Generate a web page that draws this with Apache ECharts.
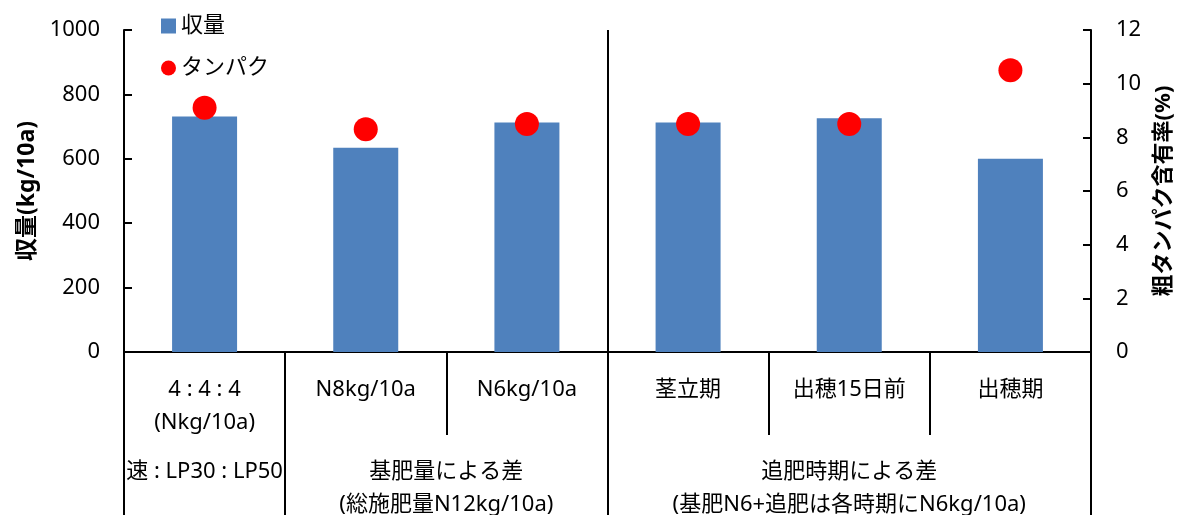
<!DOCTYPE html>
<html>
<head>
<meta charset="utf-8">
<script src="https://cdn.jsdelivr.net/npm/echarts@6/dist/echarts.min.js"></script>
<style>
html,body{margin:0;padding:0;background:#fff;}
#chart{width:1183px;height:515px;}
</style>
</head>
<body>
<div id="chart"></div>
<script>
const categories = ['4 : 4 : 4\n(Nkg/10a)', 'N8kg/10a', 'N6kg/10a', '茎立期', '出穂15日前', '出穂期'];
const yieldValues = [731, 634, 713, 713, 726, 600];
const proteinValues = [9.1, 8.3, 8.5, 8.5, 8.5, 10.5];
const groupLabels = ['速 : LP30 : LP50', '基肥量による差\n(総施肥量N12kg/10a)', '追肥時期による差\n(基肥N6+追肥は各時期にN6kg/10a)'];
const groupFirst = [0, 1, 3];
const groupLast = [0, 2, 5];
const leftTicks = [0, 200, 400, 600, 800, 1000];
const rightTicks = [0, 2, 4, 6, 8, 10, 12];

const FONT = '"Noto Sans", "Noto Sans CJK JP", sans-serif';
const chart = echarts.init(document.getElementById('chart'));
const lineStyle = { color: '#000', width: 2 };

chart.setOption({
  animation: false,
  backgroundColor: '#fff',
  textStyle: { fontFamily: FONT },
  legend: {
    orient: 'vertical',
    left: 156,
    top: 10,
    itemWidth: 15,
    itemHeight: 15,
    itemGap: 20,
    textStyle: { fontSize: 22, color: '#000', fontFamily: FONT },
    data: [{ name: '収量', icon: 'rect' }, { name: 'タンパク', icon: 'circle' }]
  },
  grid: { left: 124, right: 89, top: 30, bottom: 163 },
  xAxis: [
    {
      type: 'category',
      data: categories,
      axisLine: { lineStyle: lineStyle },
      axisTick: { show: true, length: 83, interval: 0, lineStyle: lineStyle },
      axisLabel: { interval: 0, margin: 21, fontSize: 22, lineHeight: 33, color: '#000', fontFamily: FONT },
      splitLine: { show: true, interval: function (i) { return i === 0 || i === 3; }, lineStyle: lineStyle }
    },
    {
      type: 'category',
      data: categories,
      position: 'bottom',
      axisLine: { show: false },
      axisTick: { show: true, length: 175, interval: function (i) { return groupFirst.indexOf(i) >= 0; }, lineStyle: lineStyle },
      axisLabel: { show: false },
      splitLine: { show: false }
    }
  ],
  yAxis: [
    {
      type: 'value',
      min: 0, max: 1000, interval: 200,
      name: '収量(kg/10a)',
      nameLocation: 'middle',
      nameGap: 84,
      nameRotate: 90,
      nameTextStyle: { fontSize: 23, fontWeight: 'bold', color: '#000', fontFamily: FONT },
      axisLine: { show: true, lineStyle: lineStyle },
      axisTick: { show: true, inside: true, length: 8, lineStyle: lineStyle },
      axisLabel: { margin: 24, fontSize: 22, color: '#000', fontFamily: FONT,
        formatter: function (v) { return leftTicks.indexOf(v) >= 0 ? String(v) : ''; } },
      splitLine: { show: false }
    },
    {
      type: 'value',
      min: 0, max: 12, interval: 2,
      name: '粗タンパク含有率(%)',
      nameLocation: 'middle',
      nameGap: 62,
      nameRotate: 90,
      nameTextStyle: { fontSize: 22, fontWeight: 'bold', color: '#000', fontFamily: FONT },
      axisLine: { show: true, lineStyle: lineStyle },
      axisTick: { show: true, inside: true, length: 8, lineStyle: lineStyle },
      axisLabel: { margin: 25, fontSize: 22, color: '#000', fontFamily: FONT,
        formatter: function (v) { return rightTicks.indexOf(v) >= 0 ? String(v) : ''; } },
      splitLine: { show: false }
    }
  ],
  series: [
    {
      name: '収量',
      type: 'bar',
      xAxisIndex: 0,
      yAxisIndex: 0,
      data: yieldValues,
      barWidth: 65,
      itemStyle: { color: '#4F81BD' }
    },
    {
      name: 'タンパク',
      type: 'scatter',
      xAxisIndex: 0,
      yAxisIndex: 1,
      data: proteinValues,
      symbol: 'circle',
      symbolSize: 24,
      itemStyle: { color: '#FF0000', opacity: 1 },
      z: 5
    }
  ]
});

const baseY = chart.convertToPixel({ yAxisIndex: 0 }, 0);
const groupTexts = groupLabels.map(function (label, k) {
  const x1 = chart.convertToPixel({ xAxisIndex: 0 }, groupFirst[k]);
  const x2 = chart.convertToPixel({ xAxisIndex: 0 }, groupLast[k]);
  return {
    type: 'text',
    x: (x1 + x2) / 2,
    y: baseY + 103,
    style: {
      text: label,
      fill: '#000',
      font: '22px ' + FONT,
      lineHeight: 33,
      textAlign: 'center',
      textVerticalAlign: 'top'
    }
  };
});
chart.setOption({ graphic: groupTexts });
</script>
</body>
</html>
